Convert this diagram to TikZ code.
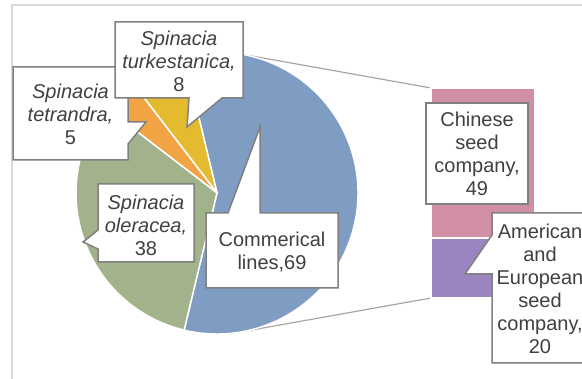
\documentclass[tikz,border=0pt]{standalone}
\usepackage{fontspec}
\setmainfont{Liberation Sans}
\definecolor{pieblue}{HTML}{7F9CC2}
\definecolor{piegreen}{HTML}{A2B38C}
\definecolor{pieorange}{HTML}{F2A445}
\definecolor{pieyellow}{HTML}{E4BA2E}
\definecolor{barpink}{HTML}{D08FA3}
\definecolor{barpurple}{HTML}{9C84C0}
\definecolor{lblborder}{HTML}{808080}
\definecolor{txt}{HTML}{404040}
\definecolor{chartframe}{HTML}{D9D9D9}
\definecolor{serline}{HTML}{A6A6A6}
\begin{document}
\begin{tikzpicture}[x=1pt,y=1pt,
  slice/.style={draw=white, line width=1.5pt, line join=round},
  callout/.style={draw=lblborder, fill=white, line width=1.5pt, line join=miter},
  lbl/.style={text=txt, font=\fontsize{20}{23}\selectfont, align=center, inner sep=0pt},
  serieslink/.style={draw=serline, line width=1.2pt},
  barpart/.style={draw=white, line width=1.5pt}]
\useasboundingbox (0,0) rectangle (582,379);
\clip (0,0) rectangle (582,379);
% chart frame
\draw[chartframe, line width=1.5pt] (12,0) -- (12,374) -- (582,374);
% series lines
\coordinate (tT) at (241.8,324.8);
\coordinate (tB) at (241.8,47.2);
\coordinate (bT) at (431,291);
\coordinate (bB) at (431,81);
\draw[serieslink] (tT) -- (bT);
\draw[serieslink] (tB) -- (bB);
% pie
\coordinate (C) at (217,186);
\path[fill=pieblue, slice] (C) -- ++(-103.5:141) arc[start angle=-103.5, end angle=103.5, radius=141] -- cycle;
\path[fill=pieyellow, slice] (C) -- ++(103.5:141) arc[start angle=103.5, end angle=127.5, radius=141] -- cycle;
\path[fill=pieorange, slice] (C) -- ++(127.5:141) arc[start angle=127.5, end angle=142.5, radius=141] -- cycle;
\path[fill=piegreen, slice] (C) -- ++(142.5:141) arc[start angle=142.5, end angle=256.5, radius=141] -- cycle;
% bar
\path[fill=barpink, barpart] (431,291) rectangle (535,141);
\path[fill=barpurple, barpart] (431,141) rectangle (535,81);
% callouts
\draw[callout] (13,312) -- (128,312) -- (128,257) -- (146,257) -- (128,235) -- (128,219) -- (13,219) -- cycle;
\draw[callout] (115,357) -- (243,357) -- (243,281) -- (222,281) -- (187,252) -- (189,281) -- (115,281) -- cycle;
\draw[callout] (98,195) -- (194,195) -- (194,117) -- (98,117) -- (98,130) -- (83,137) -- (98,149) -- cycle;
\draw[callout] (206,166) -- (228,166) -- (260,252) -- (260,166) -- (338,166) -- (338,91) -- (206,91) -- cycle;
\draw[callout] (426,276) rectangle (528,175);
\draw[callout] (492,166) -- (492,144) -- (465,105) -- (492,105) -- (492,16) -- (592,16) -- (592,166) -- cycle;
% texts
\node[lbl] (tt) at (70.5,264.5) {\textit{Spinacia}\\\textit{tetrandra,}\\5};
\node[lbl] (tk) at (179,318) {\textit{Spinacia}\\\textit{turkestanica,}\\8};
\node[lbl] (ol) at (146,154) {\textit{Spinacia}\\\textit{oleracea,}\\38};
\node[lbl] (cl) at (272,126.5) {Commerical\\lines,69};
\node[lbl] (cn) at (477,225) {Chinese\\seed\\company,\\49};
\node[lbl] (am) at (540,90) {American\\and\\European\\seed\\company,\\20};
\end{tikzpicture}
\end{document}
